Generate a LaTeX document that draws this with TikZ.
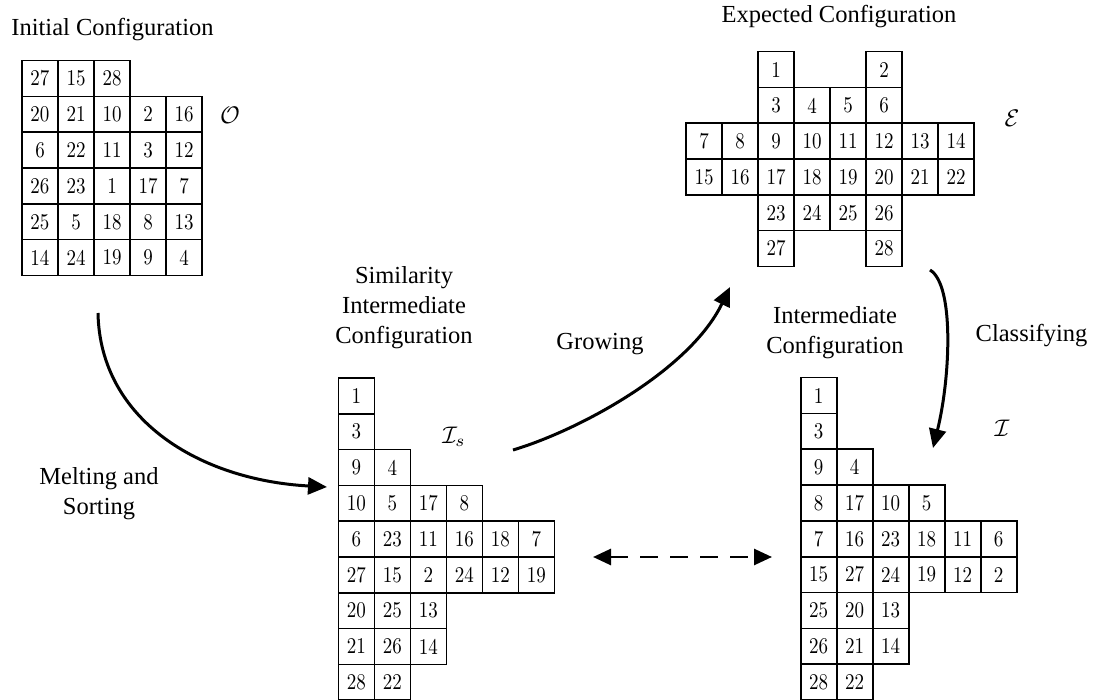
\documentclass[tikz,border=0pt]{standalone}
\usepackage{fontspec}
\usepackage{graphicx}
\usetikzlibrary{arrows.meta}
\newfontfamily\labfont{Liberation Serif}
\newcommand{\cellrow}[6]{%
  \foreach \v [count=\c from #5] in {#6}{%
    \node[cellbox] (#1-#4-\c) at ({#2+(\c+0.5)*36},{#3+(#4+0.5)*35.8}) {\scalebox{1.9}[2.25]{\v}};
  }}
\newcommand{\biglab}[1]{\scalebox{2.4}{$#1$}}
\tikzset{
  cellbox/.style={draw, line width=1.6pt, minimum width=36pt, minimum height=35.8pt,
    inner sep=0pt, font=\fontsize{10}{12}\selectfont, text=black},
  lbl/.style={font=\labfont\fontsize{24.5}{30}\selectfont, align=center, inner sep=0pt, text=black},
  mlbl/.style={inner sep=0pt},
  bigarrow/.style={line width=3pt, -{Triangle[length=19pt,width=17pt]}},
  dasharrow/.style={line width=2.7pt, {Triangle[length=18pt,width=16pt]}-{Triangle[length=18pt,width=16pt]},
    dash pattern=on 18pt off 12pt}
}
\begin{document}
\begin{tikzpicture}[x=1pt,y=-1pt]
\useasboundingbox (0,0) rectangle (1093,700);
% Initial configuration
\node[lbl] (tInit) at (112.5,30) {Initial Configuration};
\cellrow{O}{22}{60.7}{0}{0}{27,15,28}
\cellrow{O}{22}{60.7}{1}{0}{20,21,10,2,16}
\cellrow{O}{22}{60.7}{2}{0}{6,22,11,3,12}
\cellrow{O}{22}{60.7}{3}{0}{26,23,1,17,7}
\cellrow{O}{22}{60.7}{4}{0}{25,5,18,8,13}
\cellrow{O}{22}{60.7}{5}{0}{14,24,19,9,4}
\node[mlbl] (lO) at (230,115) {\biglab{\mathcal{O}}};
% Expected configuration
\node[lbl] (tExp) at (839,16.7) {Expected Configuration};
\cellrow{E}{686}{51.7}{0}{2}{1}
\cellrow{E}{686}{51.7}{0}{5}{2}
\cellrow{E}{686}{51.7}{1}{2}{3,4,5,6}
\cellrow{E}{686}{51.7}{2}{0}{7,8,9,10,11,12,13,14}
\cellrow{E}{686}{51.7}{3}{0}{15,16,17,18,19,20,21,22}
\cellrow{E}{686}{51.7}{4}{2}{23,24,25,26}
\cellrow{E}{686}{51.7}{5}{2}{27}
\cellrow{E}{686}{51.7}{5}{5}{28}
\node[mlbl] (lE) at (1012,118) {\biglab{\mathcal{E}}};
% Similarity intermediate configuration
\node[lbl] (tSim) at (404,308) {Similarity\\Intermediate\\Configuration};
\cellrow{S}{338.3}{378}{0}{0}{1}
\cellrow{S}{338.3}{378}{1}{0}{3}
\cellrow{S}{338.3}{378}{2}{0}{9,4}
\cellrow{S}{338.3}{378}{3}{0}{10,5,17,8}
\cellrow{S}{338.3}{378}{4}{0}{6,23,11,16,18,7}
\cellrow{S}{338.3}{378}{5}{0}{27,15,2,24,12,19}
\cellrow{S}{338.3}{378}{6}{0}{20,25,13}
\cellrow{S}{338.3}{378}{7}{0}{21,26,14}
\cellrow{S}{338.3}{378}{8}{0}{28,22}
\node[mlbl] (lS) at (454,437) {\biglab{\mathcal{I}_s}};
% Intermediate configuration
\node[lbl] (tInt) at (835,333) {Intermediate\\Configuration};
\cellrow{I}{800.7}{377.7}{0}{0}{1}
\cellrow{I}{800.7}{377.7}{1}{0}{3}
\cellrow{I}{800.7}{377.7}{2}{0}{9,4}
\cellrow{I}{800.7}{377.7}{3}{0}{8,17,10,5}
\cellrow{I}{800.7}{377.7}{4}{0}{7,16,23,18,11,6}
\cellrow{I}{800.7}{377.7}{5}{0}{15,27,24,19,12,2}
\cellrow{I}{800.7}{377.7}{6}{0}{25,20,13}
\cellrow{I}{800.7}{377.7}{7}{0}{26,21,14}
\cellrow{I}{800.7}{377.7}{8}{0}{28,22}
\node[mlbl] (lI) at (1002,428) {\biglab{\mathcal{I}}};
% arrow labels
\node[lbl] (tMelt) at (99,493.5) {Melting and\\Sorting};
\node[lbl] (tGrow) at (600,344) {Growing};
\node[lbl] (tClass) at (1031.5,336) {Classifying};
% arrows
\coordinate (mS) at (98,313);
\coordinate (mE) at (327,487);
\coordinate (gS) at (513,450);
\coordinate (gE) at (730,287);
\coordinate (cS) at (930,270);
\coordinate (cE) at (933,448);
\coordinate (dL) at (593,557);
\coordinate (dR) at (772,557);
\draw[bigarrow] (mS) .. controls (100,420) and (200,480) .. (mE);
\draw[bigarrow] (gS) .. controls (580,430) and (690,370) .. (gE);
\draw[bigarrow] (cS) .. controls (955,285) and (950,380) .. (cE);
\draw[dasharrow] (dL) -- (dR);
\end{tikzpicture}
\end{document}
